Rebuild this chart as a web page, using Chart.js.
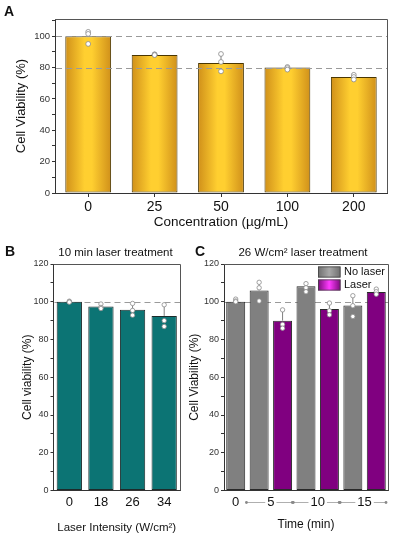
<!DOCTYPE html>
<html><head><meta charset="utf-8">
<script src="https://cdn.jsdelivr.net/npm/chart.js@4.4.0/dist/chart.umd.min.js"></script>
<style>
html,body{margin:0;padding:0;background:#fff;width:393px;height:536px;overflow:hidden}
canvas{position:absolute;display:block}
#cA{left:0;top:0;width:393px;height:240px}
#cB{left:0;top:240px;width:183px;height:296px}
#cC{left:183px;top:240px;width:210px;height:296px}
</style></head><body>
<canvas id="cA" width="393" height="240"></canvas>
<canvas id="cB" width="183" height="296"></canvas>
<canvas id="cC" width="210" height="296"></canvas>
<script>
// ---------- Panel A data ----------
const concLabels = ['0', '25', '50', '100', '200'];
const concMeans = [100, 88, 83, 80, 74];
const concErrUp = [3, 0.5, 5.6, 0.6, 1.5];
const concPoints = [[102.8, 101.5, 95.1], [88.5, 88.3, 88.0], [88.7, 83.6, 77.6], [80.4, 79.7, 78.7], [75.4, 74.0, 72.4]];
const concRefLines = [100, 80];

// ---------- Panel B data ----------
const intensityLabels = ['0', '18', '26', '34'];
const intensityMeans = [100, 97.5, 95.7, 92.5];
const intensityErrUp = [0.3, 1.3, 3.4, 5.9];
const intensityPoints = [[100.3, 100.0, 99.8], [98.8, 97.0, 96.4], [99.1, 95.4, 92.9], [98.4, 90.0, 86.9]];
const intensityRefLines = [100];

// ---------- Panel C data ----------
const timeGroups = ['0', '5', '10', '15'];
const timeGroupOf = [0, 1, 1, 2, 2, 3, 3];
const legendLabels = ['No laser', 'Laser'];
const timeCondition = [0, 0, 1, 0, 1, 0, 1];
const timeMeans = [100, 106, 90, 108.2, 96.1, 98, 105.2];
const timeErrUp = [1.4, 4.3, 5.7, 1.6, 3.2, 5.2, 1.5];
const timePoints = [[101.4, 100.4, 100.0], [110.3, 107.4, 100.4], [95.7, 88.0, 86.0], [109.6, 107.4, 105.3], [99.3, 95.2, 93.1], [103.2, 97.9, 92.2], [106.7, 105.3, 104.0]];
const timeRefLines = [100];

const FONT = "'Liberation Sans', Arial, Helvetica, sans-serif";
Chart.defaults.font.family = FONT;
Chart.defaults.color = '#222';

function labelMajor(v) { return v % 20 === 0 ? String(v) : ''; }

function yScale(max, width, titleText, titleSize, titlePad, tickSize, tickPad) {
  return {
    min: 0, max: max,
    afterFit(s) { s.width = width; },
    border: { display: true, color: '#333', width: 1 },
    grid: { drawOnChartArea: false, drawTicks: true, tickLength: 3, tickColor: '#333' },
    ticks: { stepSize: 10, includeBounds: false, autoSkip: false, padding: tickPad, font: { size: tickSize }, color: '#333', callback: labelMajor },
    title: { display: true, text: titleText, font: { size: titleSize }, color: '#111', padding: { top: titlePad, bottom: 0 } }
  };
}
function xScale(height, titleText, titleSize, titlePadBottom, tickSize, tickPad, showTicks, tickLen) {
  return {
    afterFit(s) { s.height = height; },
    border: { display: true, color: '#333', width: 1 },
    grid: { drawOnChartArea: false, offset: false, drawTicks: tickLen > 0, tickLength: tickLen, tickColor: '#333' },
    ticks: { display: showTicks, autoSkip: false, maxRotation: 0, padding: tickPad, font: { size: tickSize }, color: '#111' },
    title: { display: true, text: titleText, font: { size: titleSize }, color: '#111', padding: { top: 0, bottom: titlePadBottom } }
  };
}

function drawRefs(chart, o) {
  const ctx = chart.ctx, ys = chart.scales.y, a = chart.chartArea;
  ctx.save();
  ctx.strokeStyle = '#9a9a9a'; ctx.lineWidth = 1.2; ctx.setLineDash([6, 4]);
  o.refLines.forEach(v => {
    const y = Math.round(ys.getPixelForValue(v)) + 0.5;
    ctx.beginPath(); ctx.moveTo(a.left + 1, y); ctx.lineTo(a.right, y); ctx.stroke();
  });
  ctx.restore();
}

const overlay = {
  id: 'overlay',
  beforeDatasetsDraw(chart, args, o) { if (o.refBehind) drawRefs(chart, o); },
  afterDatasetsDraw(chart, args, o) {
    if (!o.refBehind) drawRefs(chart, o);
    const ctx = chart.ctx, ys = chart.scales.y, meta = chart.getDatasetMeta(0), means = chart.data.datasets[0].data;
    ctx.save();
    ctx.strokeStyle = '#808080'; ctx.lineWidth = 1;
    meta.data.forEach((bar, i) => {
      const y0 = ys.getPixelForValue(means[i]), y1 = ys.getPixelForValue(means[i] + o.errUp[i]);
      ctx.beginPath(); ctx.moveTo(bar.x, y0); ctx.lineTo(bar.x, y1); ctx.stroke();
    });
    meta.data.forEach((bar, i) => {
      o.points[i].forEach(v => {
        ctx.beginPath(); ctx.arc(bar.x, ys.getPixelForValue(v), o.pointRadius, 0, Math.PI * 2);
        ctx.fillStyle = '#fff'; ctx.fill(); ctx.strokeStyle = '#8a8a8a'; ctx.lineWidth = 0.8; ctx.stroke();
      });
    });
    const a = chart.chartArea;
    ctx.strokeStyle = '#555'; ctx.lineWidth = 1;
    ctx.beginPath(); ctx.moveTo(a.left, Math.round(a.top) + 0.5); ctx.lineTo(Math.round(a.right) + 0.5, Math.round(a.top) + 0.5);
    ctx.lineTo(Math.round(a.right) + 0.5, a.bottom); ctx.stroke();
    ctx.restore();
  },
  afterDraw(chart, args, o) {
    const ctx = chart.ctx, a = chart.chartArea;
    ctx.save();
    (o.texts || []).forEach(t => {
      ctx.font = (t.weight || 'normal') + ' ' + t.size + 'px ' + FONT;
      ctx.fillStyle = '#111'; ctx.textAlign = t.align || 'left'; ctx.textBaseline = 'middle';
      ctx.fillText(t.text, t.x, t.y);
    });
    if (o.groups) {
      const g = o.groups, meta = chart.getDatasetMeta(0), xs = chart.scales.x;
      const slot = xs.width / meta.data.length;
      const y = a.bottom + g.dy;
      ctx.font = g.size + 'px ' + FONT; ctx.textAlign = 'center'; ctx.textBaseline = 'middle';
      g.labels.forEach((lab, gi) => {
        const idx = g.groupOf.map((v, i) => v === gi ? i : -1).filter(i => i >= 0);
        const first = meta.data[idx[0]].x, last = meta.data[idx[idx.length - 1]].x;
        const cx = (first + last) / 2;
        ctx.fillStyle = '#111'; ctx.fillText(lab, cx, y);
        if (gi > 0) {
          const L = first - slot / 2 - 1, R = last + slot / 2 - 2;
          const w = ctx.measureText(lab).width / 2 + 2;
          ctx.strokeStyle = '#9a9a9a'; ctx.lineWidth = 0.8;
          ctx.beginPath(); ctx.moveTo(L, y); ctx.lineTo(cx - w, y); ctx.moveTo(cx + w, y); ctx.lineTo(R, y); ctx.stroke();
          ctx.fillStyle = '#888';
          [L, R].forEach(px => { ctx.beginPath(); ctx.arc(px, y, 1.4, 0, Math.PI * 2); ctx.fill(); });
        }
      });
    }
    if (o.legend) {
      const lg = o.legend;
      lg.labels.forEach((lab, i) => {
        const x0 = a.right - lg.fromRight, y0 = a.top + lg.top + i * lg.step;
        const gr = ctx.createLinearGradient(x0, 0, x0 + lg.w, 0);
        gr.addColorStop(0, lg.edge[i]); gr.addColorStop(0.5, lg.mid[i]); gr.addColorStop(1, lg.edge[i]);
        ctx.fillStyle = gr; ctx.fillRect(x0, y0, lg.w, lg.h);
        ctx.strokeStyle = '#444'; ctx.lineWidth = 0.8; ctx.strokeRect(x0 + 0.4, y0 + 0.4, lg.w - 0.8, lg.h - 0.8);
        ctx.font = lg.size + 'px ' + FONT; ctx.fillStyle = '#111'; ctx.textAlign = 'left'; ctx.textBaseline = 'middle';
        ctx.fillText(lab, x0 + lg.w + 3.5, y0 + lg.h / 2);
      });
    }
    ctx.restore();
  }
};

function barGradient(c, frac, edge, mid) {
  const chart = c.chart;
  const xs = chart.scales && chart.scales.x;
  if (!chart.chartArea || !xs) return mid;
  const n = chart.data.labels.length;
  const w = xs.width / n * frac;
  const x = xs.getPixelForValue(c.dataIndex);
  const g = chart.ctx.createLinearGradient(x - w / 2, 0, x + w / 2, 0);
  g.addColorStop(0, edge); g.addColorStop(0.42, mid); g.addColorStop(0.58, mid); g.addColorStop(1, edge);
  return g;
}

// ---------- Panel A ----------
new Chart(document.getElementById('cA'), {
  type: 'bar',
  data: { labels: concLabels, datasets: [{ data: concMeans,
    backgroundColor: c => barGradient(c, 0.69, '#d0901a', '#ffcf30'),
    borderColor: '#4a3600', borderWidth: 1, borderSkipped: false,
    categoryPercentage: 1, barPercentage: 0.69 }] },
  options: {
    responsive: false, animation: false, devicePixelRatio: 1,
    layout: { padding: { top: 19, right: 6, left: 0, bottom: 0 } },
    scales: {
      x: xScale(47, 'Concentration (µg/mL)', 13.5, 10, 14, 2, true, 4),
      y: yScale(111, 55, 'Cell Viability (%)', 13, 14, 9.5, 2)
    },
    plugins: { legend: { display: false }, tooltip: { enabled: false },
      overlay: { refLines: concRefLines, refBehind: false, errUp: concErrUp, points: concPoints, pointRadius: 2.4,
        texts: [{ text: 'A', x: 4, y: 12, size: 14, weight: 'bold' }] } }
  },
  plugins: [overlay]
});

// ---------- Panel B ----------
new Chart(document.getElementById('cB'), {
  type: 'bar',
  data: { labels: intensityLabels, datasets: [{ data: intensityMeans,
    backgroundColor: '#0c7474', borderColor: '#1d2b2b', borderWidth: 1, borderSkipped: false,
    categoryPercentage: 1, barPercentage: 0.8 }] },
  options: {
    responsive: false, animation: false, devicePixelRatio: 1,
    layout: { padding: { top: 24, right: 3, left: 0, bottom: 0 } },
    scales: {
      x: xScale(45.5, 'Laser Intensity (W/cm²)', 11.5, 1, 13, 4, true, 0),
      y: yScale(120, 53.5, 'Cell viability (%)', 12, 20, 9, 2)
    },
    plugins: { legend: { display: false }, tooltip: { enabled: false },
      overlay: { refLines: intensityRefLines, refBehind: true, errUp: intensityErrUp, points: intensityPoints, pointRadius: 2.2,
        texts: [{ text: 'B', x: 5, y: 12, size: 14, weight: 'bold' },
                { text: '10 min laser treatment', x: 115.5, y: 13, size: 11.5, align: 'center' }] } }
  },
  plugins: [overlay]
});

// ---------- Panel C ----------
new Chart(document.getElementById('cC'), {
  type: 'bar',
  data: { labels: timeMeans.map((v, i) => String(i)), datasets: [{ data: timeMeans,
    backgroundColor: timeCondition.map(k => k === 0 ? '#808080' : '#800080'),
    borderColor: '#2a2a2a', borderWidth: 1, borderSkipped: false,
    categoryPercentage: 1, barPercentage: 0.81 }] },
  options: {
    responsive: false, animation: false, devicePixelRatio: 1,
    layout: { padding: { top: 24, right: 5, left: 0, bottom: 0 } },
    scales: {
      x: xScale(45.5, 'Time (min)', 12, 4, 13, 3, false, 0),
      y: yScale(120, 41, 'Cell Viability (%)', 12, 4, 9, 2)
    },
    plugins: { legend: { display: false }, tooltip: { enabled: false },
      overlay: { refLines: timeRefLines, refBehind: true, errUp: timeErrUp, points: timePoints, pointRadius: 2.2,
        texts: [{ text: 'C', x: 12, y: 12, size: 14, weight: 'bold' },
                { text: '26 W/cm² laser treatment', x: 120, y: 13, size: 11.5, align: 'center' }],
        groups: { labels: timeGroups, groupOf: timeGroupOf, dy: 12, size: 13 },
        legend: { labels: legendLabels, fromRight: 70, top: 2.5, step: 13, w: 22.5, h: 11, size: 11,
          edge: ['#6e6e6e', '#7a0a7a'], mid: ['#a8a8a8', '#ff3cff'] } } }
  },
  plugins: [overlay]
});
</script>
</body></html>
